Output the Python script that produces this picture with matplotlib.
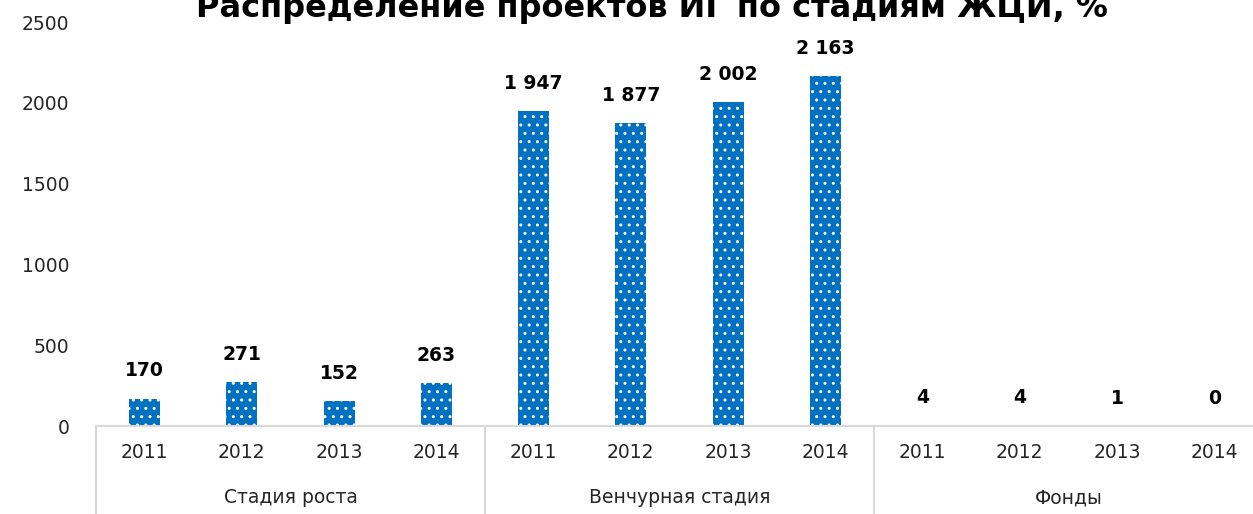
import matplotlib
matplotlib.use("Agg")
import matplotlib.pyplot as plt
import matplotlib.transforms as mtransforms

# data
groups = ["Стадия роста", "Венчурная стадия", "Фонды"]
years = ["2011", "2012", "2013", "2014"]
growth = [170, 271, 152, 263]
venture = [1947, 1877, 2002, 2163]
funds = [4, 4, 1, 0]
title = "Распределение проектов ИГ по стадиям ЖЦИ, %"

plt.rcParams["font.family"] = ["DejaVu Sans"]
plt.rcParams["hatch.linewidth"] = 1.0

values = growth + venture + funds
labels = years * len(groups)
x = list(range(len(values)))

fig = plt.figure(figsize=(12.53, 5.14), dpi=100)
ax = fig.add_axes([96 / 1253, 88 / 514, 1167 / 1253, 404 / 514])

bars = ax.bar(x, values, width=0.32, color="#0070C0", edgecolor="white",
              linewidth=0, hatch="..")

for b, v in zip(bars, values):
    txt = f"{v:,}".replace(",", " ")
    ax.annotate(txt, (b.get_x() + b.get_width() / 2, v), xytext=(0, 13),
                textcoords="offset points", ha="center", va="bottom",
                fontsize=13.5, fontweight="bold", color="black")

ax.set_xlim(-0.5, len(values) - 0.5)
ax.set_ylim(0, 2500)
ax.set_yticks([0, 500, 1000, 1500, 2000, 2500])
ax.tick_params(axis="y", length=0, labelsize=13.5, labelcolor="#262626", pad=19)
ax.set_xticks(x)
ax.set_xticklabels(labels)
ax.tick_params(axis="x", length=0, labelsize=13.5, labelcolor="#262626", pad=12)

for s in ["top", "right", "left"]:
    ax.spines[s].set_visible(False)
ax.spines["bottom"].set_color("#D9D9D9")
ax.spines["bottom"].set_linewidth(1.5)

trans = mtransforms.blended_transform_factory(ax.transData, ax.transAxes)
for i, g in enumerate(groups):
    start = i * len(years) - 0.5
    ax.plot([start, start], [0, -0.22], transform=trans, color="#D9D9D9",
            linewidth=1.5, clip_on=False)
    ax.text(start + len(years) / 2, -0.178, g, transform=trans, ha="center",
            va="center", fontsize=13.5, color="#262626")

fig.text(0.52, 1 - 17 / 514, title, ha="center", va="baseline",
         fontsize=23, fontweight="bold", color="black")

fig.savefig("out.png", dpi=100)
